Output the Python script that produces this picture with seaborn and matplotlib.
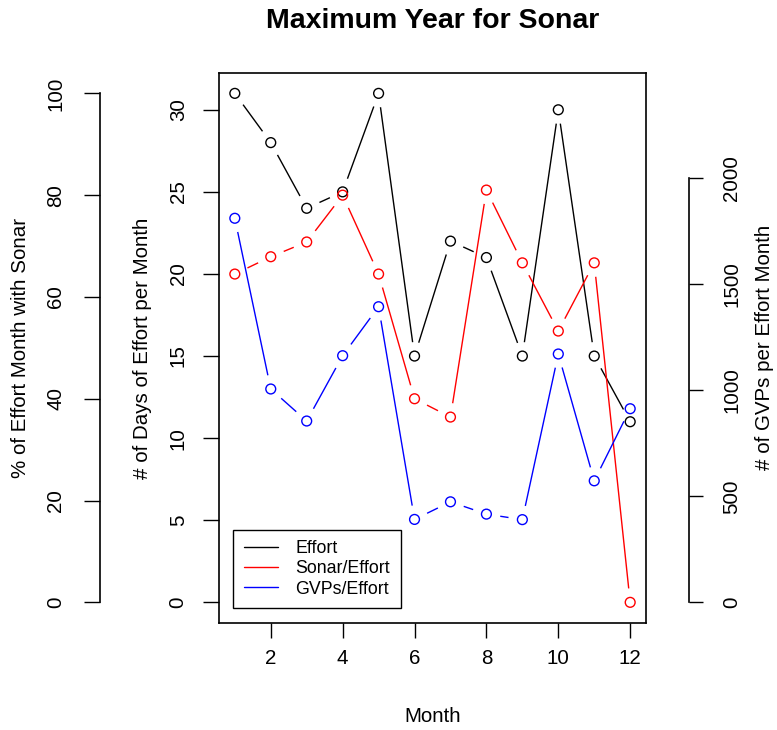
import numpy as np
import matplotlib
matplotlib.use("Agg")
import matplotlib.pyplot as plt
from matplotlib.lines import Line2D
import seaborn as sns

# Monthly summary for the year with the most sonar
months = [1, 2, 3, 4, 5, 6, 7, 8, 9, 10, 11, 12]
effort_days = [31, 28, 24, 25, 31, 15, 22, 21, 15, 30, 15, 11]
sonar_pct = [64.5, 67.9, 70.8, 80.0, 64.5, 40.0, 36.4, 81.0, 66.7, 53.3, 66.7, 0.0]
gvps_per_month = [1811, 1006, 855, 1163, 1394, 391, 474, 416, 390, 1171, 573, 913]

series_labels = ["Effort", "Sonar/Effort", "GVPs/Effort"]
series_colors = ["#000000", "#FF0000", "#0000FF"]

x_ticks = [2, 4, 6, 8, 10, 12]
effort_ticks = [0, 5, 10, 15, 20, 25, 30]
sonar_ticks = [0, 20, 40, 60, 80, 100]
gvp_ticks = [0, 500, 1000, 1500, 2000]

sns.set_theme(style="white")
plt.rcParams["font.family"] = ["Liberation Sans", "DejaVu Sans"]
for key in ["text.color", "axes.labelcolor", "xtick.color", "ytick.color", "axes.edgecolor"]:
    plt.rcParams[key] = "black"

W, H = 777, 730
fig = plt.figure(figsize=(W / 100, H / 100), dpi=100)
L, R, T, B = 219, 646, 73, 622.7
ax = fig.add_axes([L / W, 1 - B / H, (R - L) / W, (B - T) / H])
ax2 = ax.twinx()
ax3 = ax.twinx()

ax.set_xlim(0.56, 12.44)
ax.set_ylim(-1.24, 32.24)
ax2.set_ylim(-4, 104)
ax3.set_ylim(-96, 2496)

GAP = 14  # pixels left open between each line end and its marker


def draw_series(a, y, color):
    pts = a.transData.transform(np.column_stack([months, y]))
    inv = a.transData.inverted()
    for p0, p1 in zip(pts[:-1], pts[1:]):
        d = p1 - p0
        dist = np.hypot(*d)
        if dist <= 2 * GAP:
            continue
        u = d / dist
        seg = inv.transform(np.vstack([p0 + u * GAP, p1 - u * GAP]))
        a.plot(seg[:, 0], seg[:, 1], color=color, lw=1.0, solid_capstyle="butt")
    sns.scatterplot(x=months, y=y, ax=a, marker="o", s=50, facecolor="none",
                    edgecolor=color, linewidth=1.0, zorder=3)


draw_series(ax, effort_days, series_colors[0])
draw_series(ax2, sonar_pct, series_colors[1])
draw_series(ax3, gvps_per_month, series_colors[2])

# spines: full box on the main axes, offset axes for the other two scales
for s in ax.spines.values():
    s.set_visible(True)
    s.set_color("black")
    s.set_linewidth(1.2)
for s in ax2.spines.values():
    s.set_visible(False)
for s in ax3.spines.values():
    s.set_visible(False)

ax2.spines["left"].set_visible(True)
ax2.spines["left"].set_position(("axes", (100 - L) / (R - L)))
ax2.spines["left"].set_bounds(0, 100)
ax2.spines["left"].set_linewidth(1.2)
ax2.yaxis.set_ticks_position("left")
ax2.yaxis.set_label_position("left")

ax3.spines["right"].set_visible(True)
ax3.spines["right"].set_position(("axes", (689 - L) / (R - L)))
ax3.spines["right"].set_bounds(0, 2000)
ax3.spines["right"].set_linewidth(1.2)
ax3.yaxis.set_ticks_position("right")

ax.set_xticks(x_ticks)
ax.set_xticklabels([str(v) for v in x_ticks])
ax.set_yticks(effort_ticks)
ax.set_yticklabels([str(v) for v in effort_ticks])
ax2.set_yticks(sonar_ticks)
ax2.set_yticklabels([str(v) for v in sonar_ticks])
ax3.set_yticks(gvp_ticks)
ax3.set_yticklabels([str(v) for v in gvp_ticks])

FS = 14.8
ax.tick_params(axis="x", bottom=True, direction="out", length=11, width=1.0,
               labelsize=FS, pad=8)
ax.tick_params(axis="y", left=True, right=False, direction="out", length=11.5, width=1.0,
               labelsize=FS, pad=11, labelrotation=90)
ax2.tick_params(axis="y", left=True, right=False, direction="out", length=11.5, width=1.0,
                labelsize=FS, pad=13.5, labelrotation=90)
ax3.tick_params(axis="y", right=True, left=False, direction="out", length=10, width=1.0,
                labelsize=FS, pad=14, labelrotation=90)
for a in (ax, ax2, ax3):
    for t in a.get_yticklabels():
        t.set_va("center")

ax.set_xlabel("Month", fontsize=FS)
ax.xaxis.set_label_coords(0.5, (B - 717) / (B - T))
ax.set_ylabel("# of Days of Effort per Month", fontsize=FS)
ax.yaxis.set_label_coords((142 - L) / (R - L), 0.5)
ax2.set_ylabel("% of Effort Month with Sonar", fontsize=FS)
ax2.yaxis.set_label_coords((21 - L) / (R - L), 0.5)
ax3.set_ylabel("# of GVPs per Effort Month", fontsize=FS, rotation=90)
ax3.yaxis.set_label_coords((765 - L) / (R - L), 0.5)
for lab in (ax.xaxis.label, ax.yaxis.label, ax2.yaxis.label, ax3.yaxis.label):
    lab.set_va("center")
    lab.set_ha("center")

ax.set_title("Maximum Year for Sonar", fontsize=20.5, fontweight="bold",
             y=(B - 21) / (B - T), va="center", pad=0)

handles = [Line2D([], [], color=c, lw=1.0) for c in series_colors]
leg = ax3.legend(handles, series_labels, loc="lower left",
                 bbox_to_anchor=(14.3 / (R - L), 14.4 / (B - T)), borderaxespad=0,
                 fontsize=12.8, handlelength=1.9, handletextpad=1.0,
                 borderpad=0.6, labelspacing=0.18, frameon=True, fancybox=False,
                 framealpha=1, edgecolor="black")
leg.get_frame().set_linewidth(1.0)

fig.savefig("out.png", dpi=100)
